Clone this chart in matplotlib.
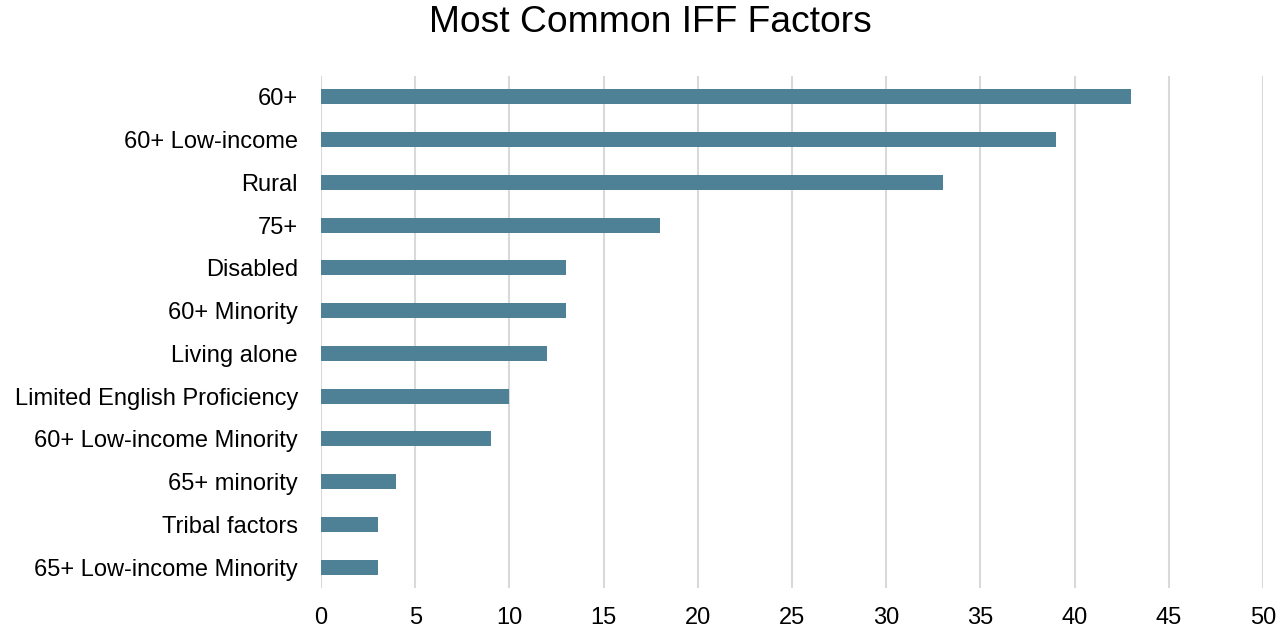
import matplotlib
matplotlib.use("Agg")
import matplotlib.pyplot as plt

categories = ["60+", "60+ Low-income", "Rural", "75+", "Disabled", "60+ Minority",
              "Living alone", "Limited English Proficiency", "60+ Low-income Minority",
              "65+ minority", "Tribal factors", "65+ Low-income Minority"]
values = [43, 39, 33, 18, 13, 13, 12, 10, 9, 4, 3, 3]
xticks = [0, 5, 10, 15, 20, 25, 30, 35, 40, 45, 50]

plt.rcParams['font.family'] = ['Liberation Sans', 'DejaVu Sans']

fig = plt.figure(figsize=(12.78, 6.29), dpi=100)
ax = fig.add_axes([321/1278, 1 - 588.4/629, (1263-321)/1278, (588.4-75.6)/629])

y = list(range(len(categories)))
ax.barh(y, values, height=0.35, color='#4E8196', zorder=3)
ax.set_ylim(len(categories) - 0.5, -0.5)
ax.set_xlim(0, 50)
ax.set_xticks(xticks)
ax.set_yticks(y)
ax.set_yticklabels(categories)
ax.grid(axis='x', color='#D9D9D9', linewidth=1.5, zorder=0)
for s in ax.spines.values():
    s.set_visible(False)
ax.tick_params(axis='both', length=0, labelsize=17, colors='black')
ax.tick_params(axis='y', pad=16.5)
ax.tick_params(axis='x', pad=13.5)

fig.text(650/1278, 1 - 22/629, "Most Common IFF Factors", ha='center', va='center', fontsize=26.8)

fig.savefig("out.png", dpi=100)
